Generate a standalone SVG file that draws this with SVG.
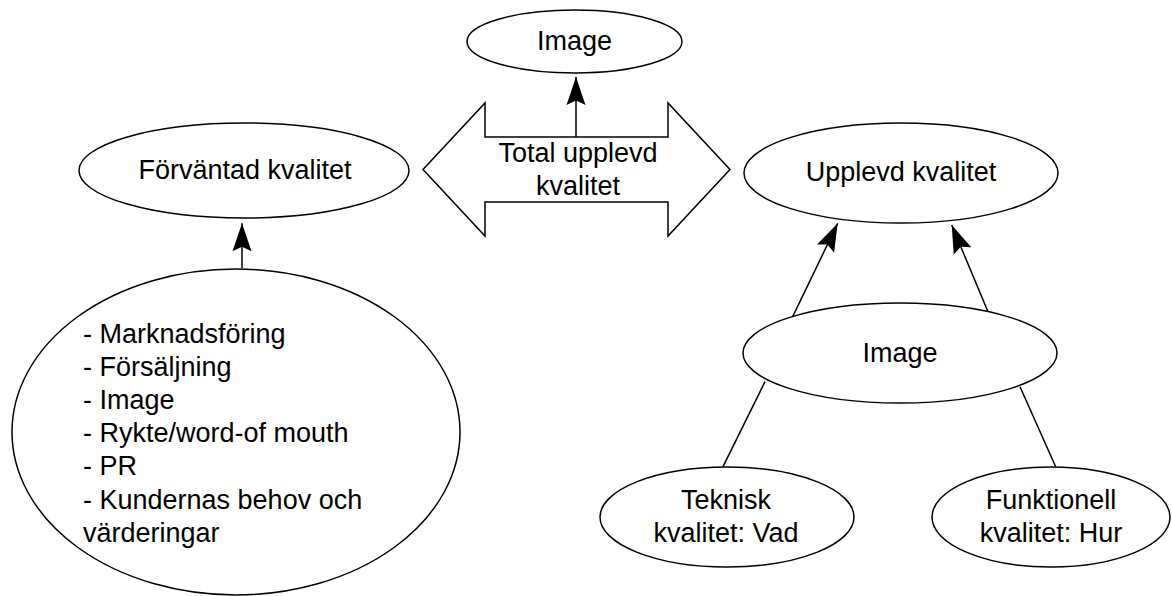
<svg xmlns="http://www.w3.org/2000/svg" width="1172" height="596" viewBox="0 0 1172 596">
<style>
.shape{fill:#fff;stroke:#000;stroke-width:1.5}
.t{font-family:"Liberation Sans",Arial,sans-serif;font-size:27px;fill:#000}
.c{text-anchor:middle}
.ln{fill:none;stroke:#000;stroke-width:1.5}
</style>
<defs>
<marker id="ah" viewBox="-30 -11 32 22" refX="0" refY="0" markerWidth="32" markerHeight="22" markerUnits="userSpaceOnUse" orient="auto">
<path d="M0,0 L-28,-9.5 L-23.5,0 L-28,9.5 Z" fill="#000"/>
</marker>
</defs>
<rect width="1172" height="596" fill="#fff"/>
<g id="total">
<polygon class="shape" points="423,169.5 485,103 485,137 668,137 668,103 730,169.5 668,236 668,202 485,202 485,236"/>
<text class="t c" x="578" y="161.5">Total upplevd</text>
<text class="t c" x="578" y="195">kvalitet</text>
</g>
<g id="image-top">
<ellipse class="shape" cx="574.5" cy="41.5" rx="107.5" ry="31.5"/>
<text class="t c" x="574.5" y="50">Image</text>
</g>
<g id="forvantad">
<ellipse class="shape" cx="244" cy="170.5" rx="165" ry="47.5"/>
<text class="t c" x="245" y="179">Förväntad kvalitet</text>
</g>
<g id="faktorer">
<ellipse class="shape" cx="236" cy="432" rx="224" ry="163"/>
<text class="t" x="83" y="343">- Marknadsföring</text>
<text class="t" x="83" y="376">- Försäljning</text>
<text class="t" x="83" y="409">- Image</text>
<text class="t" x="83" y="442">- Rykte/word-of mouth</text>
<text class="t" x="83" y="475">- PR</text>
<text class="t" x="83" y="508.5">- Kundernas behov och</text>
<text class="t" x="83" y="541.5">värderingar</text>
</g>
<g id="upplevd">
<ellipse class="shape" cx="901" cy="173" rx="157" ry="50"/>
<text class="t c" x="901" y="181">Upplevd kvalitet</text>
</g>
<g id="image-mid">
<ellipse class="shape" cx="900" cy="353" rx="157" ry="50"/>
<text class="t c" x="900" y="362">Image</text>
</g>
<g id="teknisk">
<ellipse class="shape" cx="727" cy="517" rx="127" ry="50"/>
<text class="t c" x="726" y="509">Teknisk</text>
<text class="t c" x="726" y="542">kvalitet: Vad</text>
</g>
<g id="funktionell">
<ellipse class="shape" cx="1051" cy="517" rx="119" ry="50"/>
<text class="t c" x="1051" y="508.5">Funktionell</text>
<text class="t c" x="1051" y="542">kvalitet: Hur</text>
</g>
<g id="connectors">
<line class="ln" x1="576" y1="137" x2="576" y2="77" marker-end="url(#ah)"/>
<line class="ln" x1="242" y1="268" x2="242" y2="223.3" marker-end="url(#ah)"/>
<line class="ln" x1="792.7" y1="316.7" x2="837.7" y2="223.3" marker-end="url(#ah)"/>
<line class="ln" x1="988" y1="311.7" x2="951.7" y2="225" marker-end="url(#ah)"/>
<line class="ln" x1="765" y1="381.7" x2="723" y2="466.7"/>
<line class="ln" x1="1020" y1="386.7" x2="1055.7" y2="466.7"/>
</g>
</svg>
